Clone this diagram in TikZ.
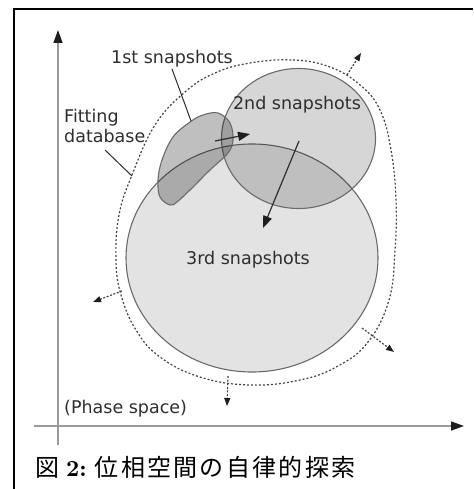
\documentclass[tikz,border=0pt]{standalone}
\usepackage{fontspec}
\newfontfamily\lblfont{DejaVu Sans}
\newfontfamily\jpfont{Noto Sans CJK JP}
\newfontfamily\lmnum{lmroman10-bold.otf}
\usetikzlibrary{arrows.meta}
\definecolor{txt}{HTML}{2E2E2E}
\definecolor{edge}{HTML}{6A6A6A}
\definecolor{axisgray}{HTML}{9A9A9A}
\definecolor{tipc}{HTML}{1E1E1E}
\definecolor{dotc}{HTML}{444444}
\makeatletter
\newcommand\jpspread[2]{\@tfor\jp@c:=#2\do{\jp@c\hspace{#1}}}
\makeatother
\begin{document}
\begin{tikzpicture}[x=1pt,y=-1pt,
  lbl/.style={font=\lblfont\fontsize{17.5}{21}\selectfont, text=txt, inner sep=0pt},
  shapeline/.style={draw=edge, line width=1.1pt},
  axisline/.style={draw=axisgray, line width=1.6pt, -{Triangle[length=13pt,width=9pt,color=tipc]}},
  solidarrow/.style={draw=txt, line width=1.2pt, -{Triangle[length=12pt,width=9pt,color=tipc]}},
  dotarrow/.style={draw=dotc, line width=1.2pt, dash pattern=on 2pt off 1.6pt, -{Triangle[length=8pt,width=6pt,color=tipc]}},
  leader/.style={draw=txt, line width=1pt},
  boundary/.style={draw=dotc, line width=1.2pt, dash pattern=on 2pt off 2pt}
]
\useasboundingbox (0,0) rectangle (473,489);
% frame
\draw[line width=2pt] (13.5,489) -- (13.5,9) -- (473,9);

% axes
\coordinate (yb) at (58,445);
\coordinate (yt) at (58,30);
\coordinate (xl) at (34,426);
\coordinate (xr) at (464,426);
\draw[axisline] (yb) -- (yt);
\draw[axisline] (xl) -- (xr);

% fitting database boundary
\draw[boundary] plot[smooth cycle, tension=0.7] coordinates {
  (250,63) (293,60) (330,67) (360,85) (380,110) (391,150) (396,200) (395,250)
  (389,300) (368,342) (338,366) (300,380) (250,385) (200,377) (160,357)
  (136,330) (121,295) (116,260) (119,215) (132,175) (155,125) (185,92) (215,73)};

% 3rd snapshots
\path[shapeline, fill=black, fill opacity=0.11] (252,258) ellipse [x radius=126, y radius=114];
% 2nd snapshots
\path[shapeline, fill=black, fill opacity=0.16] (298.5,138.5) ellipse [x radius=77, y radius=70];
% 1st snapshots blob
\path[shapeline, fill=black, fill opacity=0.25] plot[smooth cycle, tension=0.6] coordinates {
  (218,113) (230,123) (233,140) (228,153) (210,170) (190,190) (177,202) (170,205)
  (160,197) (158,180) (162,160) (173,137) (190,122) (203,115)};

% labels
\node[lbl] (first) at (172,58.5) {1st snapshots};
\node[lbl] (second) at (297,105) {2nd snapshots};
\node[lbl] (third) at (248,260) {3rd snapshots};
\node[lbl, anchor=north west, align=left, text depth=0pt] (fit) at (64,109) {Fitting\\[-0.5pt]database};
\node[lbl, anchor=west] (phase) at (64,409) {(Phase space)};

% leaders
\coordinate (l1a) at (172,69);
\coordinate (l1b) at (191,121);
\draw[leader] (l1a) -- (l1b);
\coordinate (l2a) at (105,150);
\coordinate (l2b) at (132,176);
\draw[leader] (l2a) -- (l2b);

% solid arrows
\coordinate (s1a) at (215,141);
\coordinate (s1b) at (250,134);
\draw[solidarrow] (s1a) -- (s1b);
\coordinate (s2a) at (299,141);
\coordinate (s2b) at (263,228);
\draw[solidarrow] (s2a) -- (s2b);

% expansion arrows
\coordinate (d1a) at (347,75);
\coordinate (d1b) at (361,53);
\draw[dotarrow] (d1a) -- (d1b);
\coordinate (d2a) at (122,291);
\coordinate (d2b) at (93,302);
\draw[dotarrow] (d2a) -- (d2b);
\coordinate (d3a) at (228,376);
\coordinate (d3b) at (227,406);
\draw[dotarrow] (d3a) -- (d3b);
\coordinate (d4a) at (362,328);
\coordinate (d4b) at (394,352);
\draw[dotarrow] (d4a) -- (d4b);

% caption
\node[anchor=base west, inner sep=0pt] (cap) at (35,476)
  {\fontsize{24}{28}\selectfont{\jpfont 図}\hspace{7pt}{\lmnum\fontsize{23}{27}\selectfont 2:}\hspace{8pt}{\jpfont\jpspread{2.3pt}{位相空間の自律的探索}}};
\end{tikzpicture}
\end{document}
